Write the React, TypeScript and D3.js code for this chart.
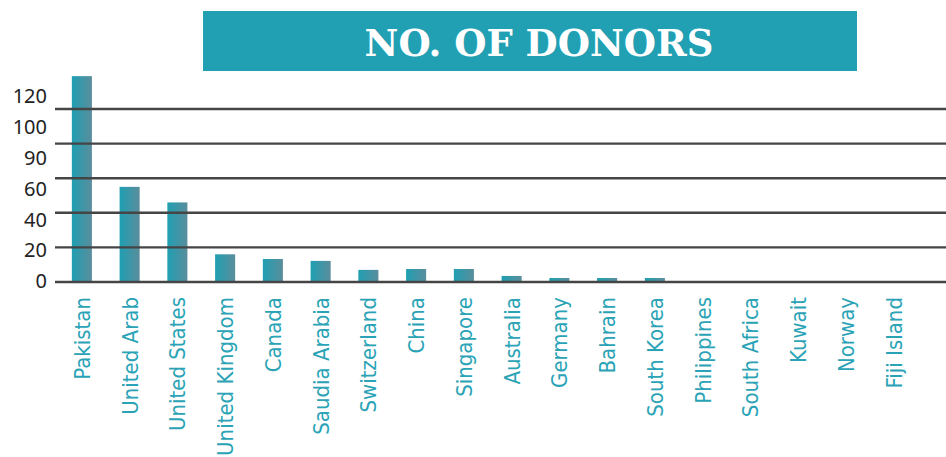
import React from "react";
import * as d3 from "d3";

const countries = [
  "Pakistan", "United Arab", "United States", "United Kingdom", "Canada",
  "Saudia Arabia", "Switzerland", "China", "Singapore", "Australia",
  "Germany", "Bahrain", "South Korea", "Philippines", "South Africa",
  "Kuwait", "Norway", "Fiji Island",
];
const donors = [119, 55, 46, 16, 13.3, 12.2, 7, 7.5, 7.5, 3.5, 2.3, 2.3, 2.3, 0, 0, 0, 0, 0];
const gridValues = [0, 20, 40, 60, 80, 100];
const tickLabels = ["0", "20", "40", "60", "90", "100", "120"];
const title = "NO. OF DONORS";

const W = 946;
const H = 457;

export default function App() {
  const x = d3.scaleBand<string>().domain(countries).range([58, 917.5]).paddingInner(0.58).paddingOuter(0.29);
  const y = d3.scaleLinear().domain([0, 100]).range([282, 109]);
  const labelY = d3.scalePoint<string>().domain(tickLabels).range([281, 96]);

  return (
    <svg
      width={W}
      height={H}
      viewBox={`0 0 ${W} ${H}`}
      style={{ position: "absolute", left: 0, top: 0, background: "#fff" }}
    >
      <defs>
        <linearGradient id="barGrad" x1="0" x2="1" y1="0" y2="0">
          <stop offset="0%" stopColor="#1f9fb2" />
          <stop offset="100%" stopColor="#5b8d9c" />
        </linearGradient>
      </defs>

      <rect x={203} y={11} width={654} height={60} fill="#21a0b4" />
      <text
        x={539}
        y={56}
        textAnchor="middle"
        fill="#fff"
        fontFamily="'DejaVu Serif', serif"
        fontWeight="bold"
        fontSize={37}
      >
        {title}
      </text>

      {donors.map((v, i) =>
        v > 0 ? (
          <rect
            key={countries[i]}
            x={x(countries[i])}
            y={y(v)}
            width={x.bandwidth()}
            height={y(0) - y(v)}
            fill="url(#barGrad)"
          />
        ) : null
      )}

      {gridValues.map((g) => (
        <line key={g} x1={55} x2={W} y1={y(g)} y2={y(g)} stroke="#454545" strokeWidth={2.4} />
      ))}

      {tickLabels.map((t) => (
        <text
          key={t}
          x={47}
          y={labelY(t)}
          dy="0.36em"
          textAnchor="end"
          fill="#222"
          fontFamily="'Noto Sans', sans-serif"
          fontSize={20}
        >
          {t}
        </text>
      ))}

      {countries.map((c) => (
        <text
          key={c}
          transform={`translate(${(x(c) ?? 0) + x.bandwidth() / 2},297) rotate(-90)`}
          dy="0.36em"
          textAnchor="end"
          fill="#2aa3b6"
          fontFamily="'DejaVu Sans Condensed', 'DejaVu Sans', sans-serif"
          fontStretch="condensed"
          fontSize={22}
        >
          {c}
        </text>
      ))}
    </svg>
  );
}
